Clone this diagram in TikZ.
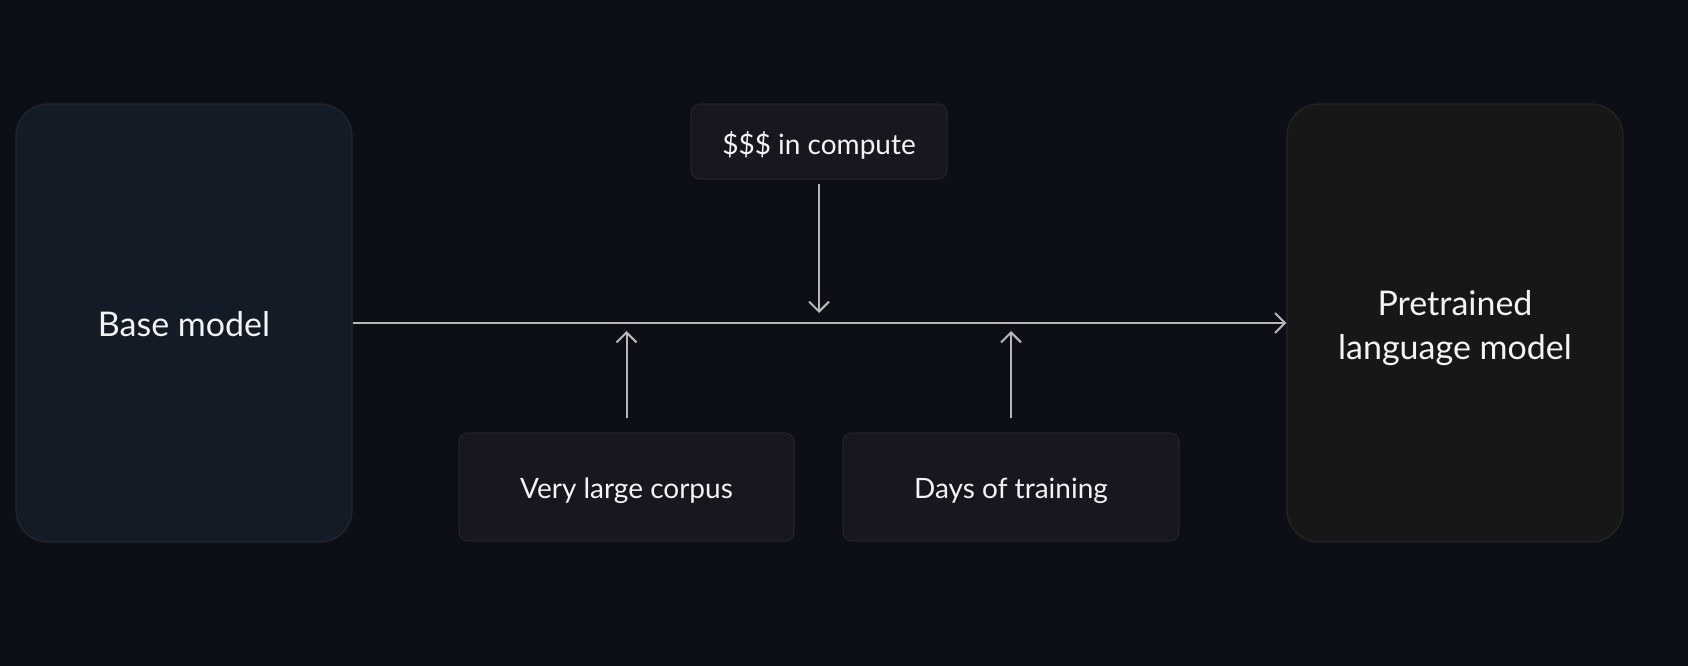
\documentclass[tikz,border=0pt]{standalone}
\usepackage{fontspec}
\setmainfont{Lato}
\usetikzlibrary{arrows.meta}
\definecolor{bg}{HTML}{0D0F17}
\definecolor{basefill}{HTML}{131B27}
\definecolor{baseline}{HTML}{23272D}
\definecolor{prefill}{HTML}{171717}
\definecolor{preline}{HTML}{252525}
\definecolor{smallfill}{HTML}{18161F}
\definecolor{smallline}{HTML}{24222A}
\definecolor{conn}{HTML}{B8B8BB}
\definecolor{txt}{HTML}{F4F4F4}
\tikzset{
  bigbox/.style={rectangle, rounded corners=32pt, minimum width=336pt, minimum height=438pt, line width=1.2pt, text=txt, font=\fontsize{34}{44}\selectfont, align=center, inner sep=0pt},
  smallbox/.style={rectangle, rounded corners=9pt, line width=1.2pt, fill=smallfill, draw=smallline, text=txt, font=\fontsize{28}{32}\selectfont, inner sep=0pt, text depth=0pt},
  conn/.style={draw=conn, line width=2pt, -{Straight Barb[length=10pt,width=20pt,line width=2pt]}},
}
\begin{document}
\begin{tikzpicture}[x=1pt,y=-1pt]
\fill[bg] (0,0) rectangle (1688,666);
\useasboundingbox (0,0) rectangle (1688,666);
\node[bigbox, fill=basefill, draw=baseline, text height=27pt, text depth=0pt] (base) at (184,323) {Base model};
\node[bigbox, fill=prefill, draw=preline] (pre) at (1455,323) {\rule{0pt}{36pt}Pretrained\\language model};
\node[smallbox, minimum width=256pt, minimum height=75pt, text height=25.6pt] (compute) at (819,141.5) {\$\$\$ in compute};
\node[smallbox, minimum width=335pt, minimum height=108pt, text height=22pt] (corpus) at (626.5,487) {Very large corpus};
\node[smallbox, minimum width=336pt, minimum height=108pt, text height=22pt] (days) at (1011,487) {Days of training};
\coordinate (m1) at (819,313);
\coordinate (m2) at (626.5,331);
\coordinate (m3) at (1011,331);
\draw[conn] (base.east) -- (pre.west);
\draw[conn, shorten <=4pt] (compute.south) -- (m1);
\draw[conn, shorten <=14pt] (corpus.north) -- (m2);
\draw[conn, shorten <=14pt] (days.north) -- (m3);
\end{tikzpicture}
\end{document}
